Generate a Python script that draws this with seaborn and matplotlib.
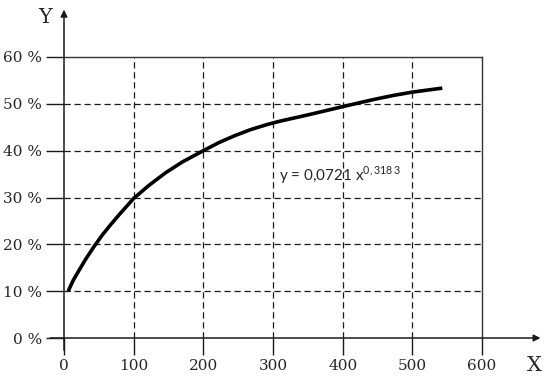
import matplotlib
matplotlib.use("Agg")
import matplotlib.pyplot as plt
import seaborn as sns
import pandas as pd

# Data
x_vals = [6, 13.5, 21, 31, 43, 55, 67, 79, 91, 100, 122, 146, 170, 200, 222,
          245, 268, 292, 310, 322, 346, 369, 400, 426, 450, 473, 500, 525, 543]
y_pct = [10, 12.4, 14.3, 16.8, 19.5, 22.0, 24.2, 26.3, 28.3, 29.8, 32.6, 35.3,
         37.6, 40.0, 41.7, 43.2, 44.5, 45.6, 46.3, 46.7, 47.5, 48.3, 49.4, 50.3,
         51.1, 51.8, 52.5, 53.0, 53.35]
x_ticks = [0, 100, 200, 300, 400, 500, 600]
y_ticks = [0, 10, 20, 30, 40, 50, 60]
y_tick_labels = [f"{v} %" for v in y_ticks]
equation = r"y = 0,0721 x$^{\mathregular{0,318\,3}}$"

sns.set_style("white")
plt.rcParams["font.family"] = ["DejaVu Serif"]

df = pd.DataFrame({"X": x_vals, "Y": y_pct})

fig = plt.figure(figsize=(5.52, 3.84), dpi=100)
ax = fig.add_axes([64 / 552, 46 / 384, 418 / 552, 281 / 384])
ax.set_xlim(0, 600)
ax.set_ylim(0, 60)

ink = "#1a1a1a"
# dashed grid
for xv in x_ticks[1:-1]:
    ax.plot([xv, xv], [0, 60], color=ink, lw=0.9, ls=(0, (5, 3)), zorder=1)
for yv in y_ticks[1:-1]:
    ax.plot([0, 600], [yv, yv], color=ink, lw=0.9, ls=(0, (5, 3)), zorder=1)

sns.lineplot(data=df, x="X", y="Y", ax=ax, color="black", lw=2.6, zorder=3,
             solid_joinstyle="round", solid_capstyle="butt")

for s in ["left", "bottom"]:
    ax.spines[s].set_visible(False)
for s in ["top", "right"]:
    ax.spines[s].set_visible(True)
    ax.spines[s].set_color("#333333")
    ax.spines[s].set_linewidth(1.0)

# axis arrows
ax.annotate("", xy=(684, 0), xytext=(-20, 0), xycoords="data",
            arrowprops=dict(arrowstyle="-|>", color=ink, lw=1.1, mutation_scale=10,
                            shrinkA=0, shrinkB=0), annotation_clip=False)
ax.annotate("", xy=(0, 70.1), xytext=(0, -2.6), xycoords="data",
            arrowprops=dict(arrowstyle="-|>", color=ink, lw=1.1, mutation_scale=10,
                            shrinkA=0, shrinkB=0), annotation_clip=False)

ax.set_xticks(x_ticks)
ax.set_xticklabels([str(v) for v in x_ticks])
ax.set_yticks(y_ticks)
ax.set_yticklabels(y_tick_labels)
ax.tick_params(axis="x", direction="out", length=12, width=1.0, color=ink,
               labelsize=11, pad=3, bottom=True)
ax.tick_params(axis="y", direction="out", length=13, width=1.0, color=ink,
               labelsize=11, pad=3, left=True)
ax.set_xlabel("")
ax.set_ylabel("")

ax.text(-17, 68.4, "Y", fontsize=15, ha="right", va="center", clip_on=False)
ax.text(665, -5.8, "X", fontsize=15, ha="left", va="center", clip_on=False)

ax.text(309, 34.8, equation, fontsize=11, family=["Lato", "DejaVu Sans"],
        ha="left", va="center")

fig.savefig("out.png", dpi=100)
